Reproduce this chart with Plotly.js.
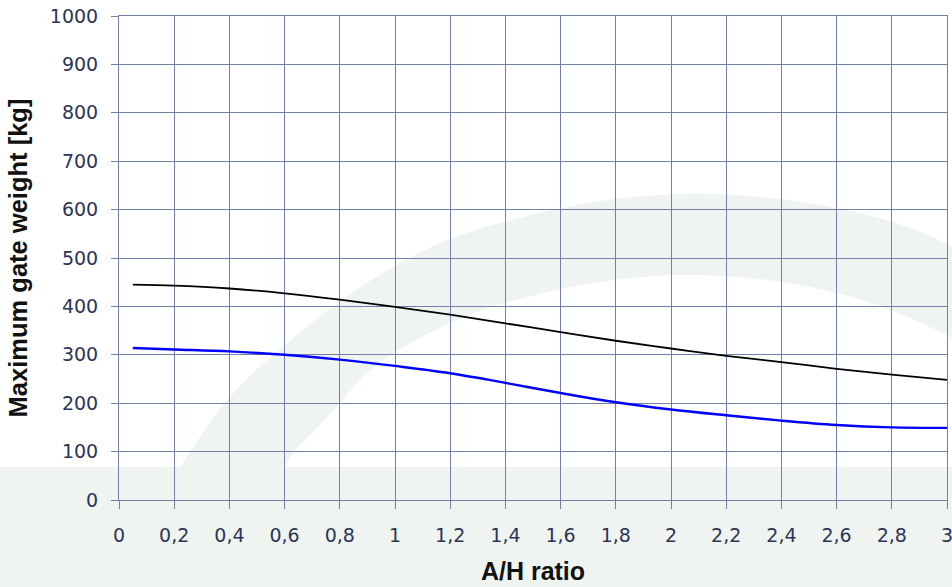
<!DOCTYPE html>
<html>
<head>
<meta charset="utf-8">
<script src="https://cdn.plot.ly/plotly-3.0.1.min.js"></script>
<style>
html,body{margin:0;padding:0;background:#fff;}
#chart{width:952px;height:587px;}
</style>
</head>
<body>
<div id="chart"></div>
<script>
// ---- data ----
var ahRatio = [0.05, 0.2, 0.4, 0.6, 0.8, 1.0, 1.2, 1.4, 1.6, 1.8, 2.0, 2.2, 2.4, 2.6, 2.8, 3.0];
var upperWeight = [445, 443, 437, 427, 414, 399, 383, 365, 347, 329, 313, 298, 285, 271, 259, 248];
var lowerWeight = [314, 311, 307, 300, 290, 277, 262, 242, 221, 202, 187, 175, 164, 155, 150, 149];
var xTickVals = [0, 0.2, 0.4, 0.6, 0.8, 1, 1.2, 1.4, 1.6, 1.8, 2, 2.2, 2.4, 2.6, 2.8, 3];
var xTickText = ["0", "0,2", "0,4", "0,6", "0,8", "1", "1,2", "1,4", "1,6", "1,8", "2", "2,2", "2,4", "2,6", "2,8", "3"];
var yTickVals = [0, 100, 200, 300, 400, 500, 600, 700, 800, 900, 1000];

// ---- layout constants ----
var W = 952, H = 587;
var M = {l: 119, r: 5, t: 16, b: 87};
var PW = W - M.l - M.r, PH = H - M.t - M.b;

// background watermark (decoration, in pixel space of the picture)
function px2paper(p) { return [(p[0] - M.l) / PW, (H - M.b - p[1]) / PH]; }
var arcOuter = [[180,467],[200,437],[220,407],[250,375],[287,343],[340,300],[400,262],[450,238],[500,222],[600,199],[700,192],[800,200],[900,222],[960,250]];
var arcInner = [[960,342],[900,310],[800,283],[700,273],[600,280],[500,303],[450,322],[400,348],[360,378],[337,407],[310,435],[290,455],[283,470]];
function smoothPath(pts) {
  var q = pts.map(px2paper);
  var s = "M" + q[0][0] + "," + q[0][1];
  for (var i = 1; i < q.length - 1; i++) {
    var mx = (q[i][0] + q[i+1][0]) / 2, my = (q[i][1] + q[i+1][1]) / 2;
    s += " Q" + q[i][0] + "," + q[i][1] + " " + mx + "," + my;
  }
  s += " L" + q[q.length-1][0] + "," + q[q.length-1][1];
  return s;
}
var outerP = smoothPath(arcOuter);
var innerP = smoothPath(arcInner).replace(/^M/, " L");
var arcPath = outerP + innerP + " Z";
var bandTop = px2paper([0, 467])[1];
var bandBottom = px2paper([0, H + 5])[1];
var bandLeft = px2paper([-5, 0])[0];
var bandRight = px2paper([W + 5, 0])[0];
var wmColor = "#f0f4f0";

var gridColor = "#7580a8";
var tickColor = "#2b3558";

var traces = [
  {
    x: ahRatio, y: upperWeight, type: "scatter", mode: "lines",
    line: {color: "#000000", width: 1.8, shape: "spline", smoothing: 1},
    name: "upper", hoverinfo: "x+y"
  },
  {
    x: ahRatio, y: lowerWeight, type: "scatter", mode: "lines",
    line: {color: "#0000ff", width: 2.4, shape: "spline", smoothing: 1},
    name: "lower", hoverinfo: "x+y"
  }
];

var layout = {
  width: W, height: H,
  margin: M,
  paper_bgcolor: "#ffffff",
  plot_bgcolor: "rgba(0,0,0,0)",
  showlegend: false,
  font: {family: "DejaVu Sans, sans-serif", size: 19, color: tickColor},
  xaxis: {
    range: [0, 3], tickvals: xTickVals, ticktext: xTickText,
    showgrid: true, gridcolor: gridColor, gridwidth: 1,
    zeroline: false, showline: true, linecolor: gridColor, linewidth: 1, mirror: true,
    ticks: "outside", ticklen: 8, tickcolor: gridColor, tickwidth: 1,
    ticklabelstandoff: 10, ticklabeloverflow: "allow",
    tickfont: {family: "DejaVu Sans, sans-serif", size: 19, color: tickColor},
    title: {text: "A/H ratio", standoff: 17,
      font: {family: "Liberation Sans, Arial, sans-serif", size: 25, color: "#111111", weight: "bold"}}
  },
  yaxis: {
    range: [0, 1000], tickvals: yTickVals,
    showgrid: true, gridcolor: gridColor, gridwidth: 1,
    zeroline: false, showline: true, linecolor: gridColor, linewidth: 1, mirror: true,
    ticks: "outside", ticklen: 7, tickcolor: gridColor, tickwidth: 1,
    ticklabelstandoff: 9, ticklabeloverflow: "allow",
    tickfont: {family: "DejaVu Sans, sans-serif", size: 19, color: tickColor},
    title: {text: "Maximum gate weight [kg]", standoff: 14,
      font: {family: "Liberation Sans, Arial, sans-serif", size: 25.5, color: "#111111", weight: "bold"}}
  },
  shapes: [
    {type: "rect", xref: "paper", yref: "paper", x0: bandLeft, x1: bandRight, y0: bandBottom, y1: bandTop,
     fillcolor: wmColor, line: {width: 0}, layer: "below"},
    {type: "path", xref: "paper", yref: "paper", path: arcPath,
     fillcolor: wmColor, line: {width: 0}, layer: "below"}
  ]
};

Plotly.newPlot("chart", traces, layout, {displayModeBar: false, staticPlot: true});
</script>
</body>
</html>
